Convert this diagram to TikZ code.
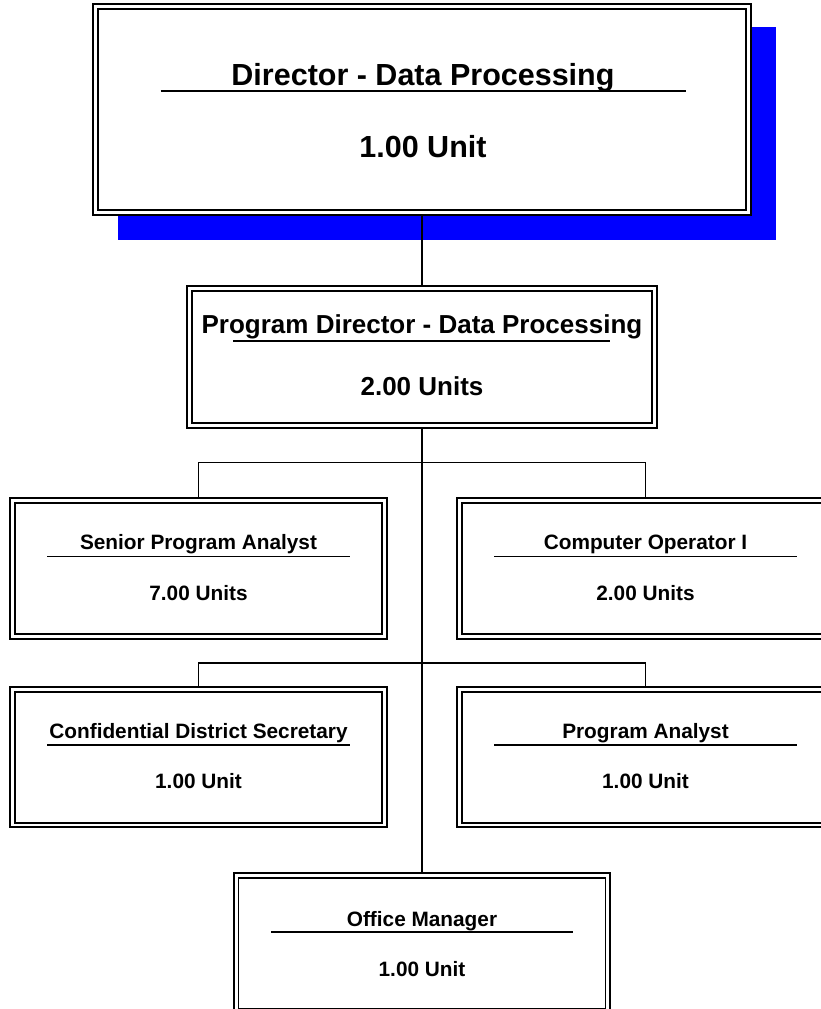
\documentclass[tikz,border=0pt]{standalone}
\usepackage{fontspec}
\setmainfont{Liberation Sans}
\definecolor{shadowblue}{RGB}{0,0,255}
\begin{document}
\begin{tikzpicture}[x=1pt,y=-1pt,
  box/.style={rectangle, draw=black, double=white, line width=1.9pt,
    double distance=2.8pt, fill=white, inner sep=0pt, outer sep=3.3pt},
  bigbox/.style={box, minimum width=653.3pt, minimum height=206.1pt},
  midbox/.style={box, minimum width=465.3pt, minimum height=137pt},
  smallbox/.style={box, minimum width=371.7pt, minimum height=135.7pt},
  bigtext/.style={anchor=base, inner sep=0pt, font=\fontsize{30.5}{36}\selectfont\bfseries},
  midtext/.style={anchor=base, inner sep=0pt, font=\fontsize{26}{31}\selectfont\bfseries},
  smalltext/.style={anchor=base, inner sep=0pt, font=\fontsize{20.8}{25}\selectfont\bfseries},
  uline/.style={line width=1.7pt},
  conn/.style={line width=1.7pt}
]
\useasboundingbox (0,0) rectangle (821,1009);

% shadow of top box
\fill[shadowblue] (118,27) rectangle (776,240);

% boxes
\node[bigbox] (top) at (422,109.6) {};
\node[midbox] (pd) at (422,356.85) {};
\node[smallbox] (sen) at (198.5,568.5) {};
\node[smallbox] (co) at (645.5,568.5) {};
\node[smallbox] (cds) at (198.5,757.2) {};
\node[smallbox] (pa) at (645.5,757.2) {};
\node[smallbox] (om) at (422,943.5) {};

% connectors
\coordinate (j1) at (422,462.5);
\coordinate (j2) at (422,663);
\draw[conn] (top.south) -- (pd.north);
\draw[conn] (pd.south) -- (om.north);
\draw[conn] (sen.north) |- (j1) -| (co.north);
\draw[conn] (cds.north) |- (j2) -| (pa.north);

% top box text
\node[bigtext] (topT) at (423,85) {Director - Data Processing};
\draw[uline] (160.5,91) -- (685.5,91);
\node[bigtext] (topU) at (423,157) {1.00 Unit};

% program director
\node[midtext] (pdT) at (422,333.3) {Program Director - Data Processing};
\draw[uline] (233,341) -- (610,341);
\node[midtext] (pdU) at (422,395) {2.00 Units};

% row 1
\node[smalltext] (senT) at (198.5,549.8) {Senior Program Analyst};
\draw[uline] (47,556.5) -- (350,556.5);
\node[smalltext] (senU) at (198.5,600) {7.00 Units};
\node[smalltext] (coT) at (645.5,549.8) {Computer Operator I};
\draw[uline] (494,556.5) -- (797,556.5);
\node[smalltext] (coU) at (645.5,600) {2.00 Units};

% row 2
\node[smalltext] (cdsT) at (198.5,738.5) {Confidential District Secretary};
\draw[uline] (47,745.2) -- (350,745.2);
\node[smalltext] (cdsU) at (198.5,788.7) {1.00 Unit};
\node[smalltext] (paT) at (645.5,738.5) {Program Analyst};
\draw[uline] (494,745.2) -- (797,745.2);
\node[smalltext] (paU) at (645.5,788.7) {1.00 Unit};

% office manager
\node[smalltext] (omT) at (422,926.5) {Office Manager};
\draw[uline] (271,932) -- (573,932);
\node[smalltext] (omU) at (422,976) {1.00 Unit};
\end{tikzpicture}
\end{document}
